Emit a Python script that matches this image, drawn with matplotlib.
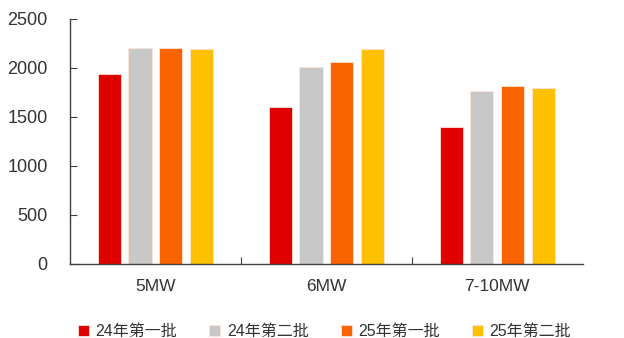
import numpy as np
import matplotlib.pyplot as plt

plt.rcParams['font.family'] = ['Liberation Sans', 'Noto Sans CJK SC', 'DejaVu Sans']

categories = ['5MW', '6MW', '7-10MW']
series = ['24年第一批', '24年第二批', '25年第一批', '25年第二批']
values_24_1 = [1940, 1600, 1400]
values_24_2 = [2205, 2010, 1765]
values_25_1 = [2205, 2060, 1815]
values_25_2 = [2195, 2195, 1795]
colors = ['#e00000', '#c8c8c8', '#fa6400', '#ffc000']

fig = plt.figure(figsize=(6.24, 3.38), dpi=100)
ax = fig.add_axes([0.112, 0.219, 0.822, 0.725])

x = np.arange(len(categories))
width = 0.135
step = 0.18
all_vals = [values_24_1, values_24_2, values_25_1, values_25_2]
for i, (vals, name, c) in enumerate(zip(all_vals, series, colors)):
    ax.bar(x + (i - 1.5) * step, vals, width, color=c, label=name,
           edgecolor='#fbe3d8', linewidth=0.6)

ax.set_xlim(-0.5, 2.5)
ax.set_ylim(0, 2500)
ax.set_yticks(np.arange(0, 2501, 500))
ax.set_xticks([0.5, 1.5])
ax.set_xticklabels([])
ax.set_xticks(x, minor=True)
ax.set_xticklabels(categories, minor=True, fontsize=12.5, color='#333333')
ax.tick_params(axis='x', which='minor', length=0, pad=11)
ax.tick_params(axis='x', which='major', direction='in', length=5, color='#404040')
ax.tick_params(axis='y', direction='in', length=5, labelsize=13,
               labelcolor='#333333', color='#404040', pad=16)

for s in ['top', 'right']:
    ax.spines[s].set_visible(False)
for s in ['left', 'bottom']:
    ax.spines[s].set_color('#404040')
    ax.spines[s].set_linewidth(1.0)

fig.legend(loc='center', bbox_to_anchor=(0.52, 0.02), ncol=4, frameon=False,
           fontsize=11.5, handlelength=0.7, handleheight=0.7, handletextpad=0.4,
           columnspacing=2.0, labelcolor='#333333')

fig.savefig('out.png', dpi=100)
